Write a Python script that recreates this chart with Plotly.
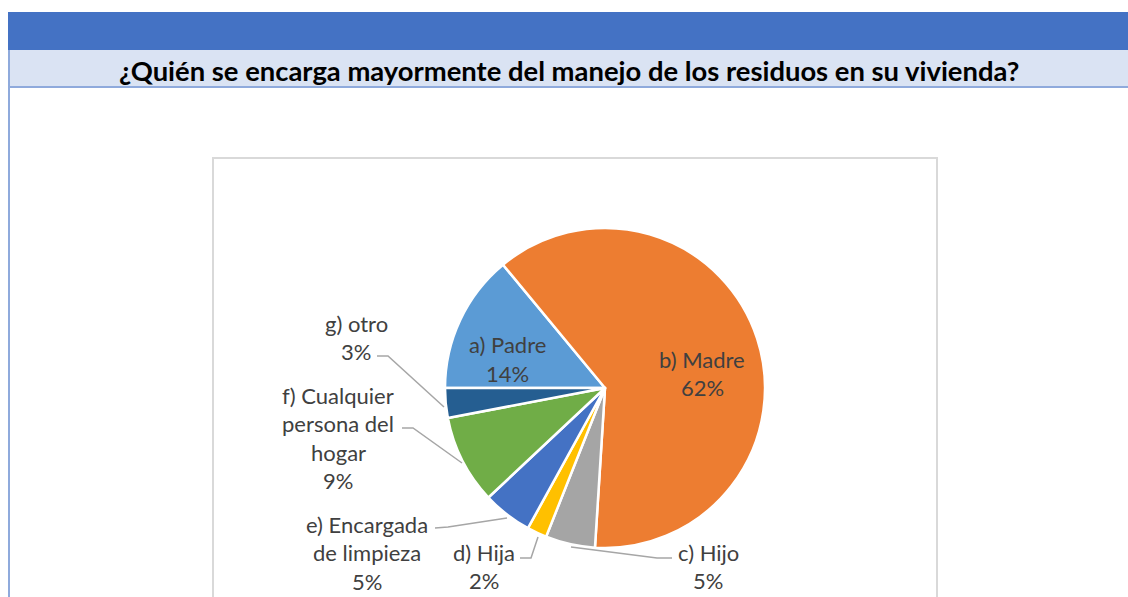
import plotly.graph_objects as go

W, H = 1128, 597

categories = ["a) Padre", "b) Madre", "c) Hijo", "d) Hija",
              "e) Encargada de limpieza", "f) Cualquier persona del hogar", "g) otro"]
values = [14, 62, 5, 2, 5, 9, 3]
colors = ["#5B9BD5", "#ED7D31", "#A5A5A5", "#FFC000", "#4472C4", "#70AD47", "#255E91"]
title_text = "¿Quién se encarga mayormente del manejo de los residuos en su vivienda?"

label_lines = {
    "a) Padre": ["a) Padre"],
    "b) Madre": ["b) Madre"],
    "c) Hijo": ["c) Hijo"],
    "d) Hija": ["d) Hija"],
    "e) Encargada de limpieza": ["e) Encargada", "de limpieza"],
    "f) Cualquier persona del hogar": ["f) Cualquier", "persona del", "hogar"],
    "g) otro": ["g) otro"],
}


def px(x):
    return x / W


def py(y):
    return 1 - y / H


cx, cy, R = 605, 388, 160

fig = go.Figure()
fig.add_trace(go.Pie(
    labels=categories, values=values, sort=False, direction="clockwise",
    rotation=270, textinfo="none", hoverinfo="label+percent",
    marker=dict(colors=colors, line=dict(color="white", width=2.5)),
    domain=dict(x=[px(cx - R), px(cx + R)], y=[py(cy + R), py(cy - R)]),
    showlegend=False,
))

total = sum(values)
pct = {c: f"{round(v / total * 100)}%" for c, v in zip(categories, values)}

LBL = dict(family="Lato, 'Liberation Sans', sans-serif", size=22, color="#404040")

label_pos = [
    ("a) Padre", 507, 345),
    ("b) Madre", 702, 359),
    ("g) otro", 356, 323),
    ("f) Cualquier persona del hogar", 338, 395),
    ("e) Encargada de limpieza", 367, 524),
    ("d) Hija", 484, 552),
    ("c) Hijo", 708, 552),
]
LH = 28.5
annotations = []
for cat, x, y in label_pos:
    lines = label_lines[cat] + [pct[cat]]
    for i, line in enumerate(lines):
        annotations.append(dict(
            x=px(x), y=py(y + i * LH), xref="paper", yref="paper",
            text=line, showarrow=False, xanchor="center", yanchor="middle",
            font=LBL))

annotations.append(dict(
    x=px(569), y=py(70), xref="paper", yref="paper", text="<b>" + title_text + "</b>",
    showarrow=False, xanchor="center", yanchor="middle",
    font=dict(family="Lato, 'Liberation Sans', sans-serif", size=27.4, color="#000000")))

shapes = [
    dict(type="rect", xref="paper", yref="paper", x0=px(8), x1=px(1135), y0=py(50), y1=py(12),
         fillcolor="#4472C4", line=dict(width=0), layer="below"),
    dict(type="rect", xref="paper", yref="paper", x0=px(8), x1=px(1135), y0=py(87), y1=py(50),
         fillcolor="#DAE3F3", line=dict(width=0), layer="below"),
    dict(type="line", xref="paper", yref="paper", x0=px(8), x1=px(1135), y0=py(87), y1=py(87),
         line=dict(color="#8FAADC", width=2)),
    dict(type="line", xref="paper", yref="paper", x0=px(9), x1=px(9), y0=py(50), y1=py(605),
         line=dict(color="#8FAADC", width=2)),
    dict(type="rect", xref="paper", yref="paper", x0=px(213), x1=px(937), y0=py(610), y1=py(158),
         fillcolor="rgba(0,0,0,0)", line=dict(color="#D9D9D9", width=2)),
]

leaders = [
    [(377, 356), (388, 356), (444, 407)],
    [(402, 428), (413, 428), (462, 463)],
    [(435, 528), (448, 527), (507, 518)],
    [(520, 558), (531, 558), (538, 537)],
    [(571, 547), (657, 558), (672, 558)],
]
for pts in leaders:
    path = "M " + " L ".join(f"{px(a)},{py(b)}" for a, b in pts)
    shapes.append(dict(type="path", xref="paper", yref="paper", path=path,
                       line=dict(color="#A6A6A6", width=1.5)))

fig.update_layout(
    width=W, height=H, margin=dict(l=0, r=0, t=0, b=0),
    paper_bgcolor="white", plot_bgcolor="white",
    annotations=annotations, shapes=shapes,
)

fig.write_html(
    "out.html",
    config={"displayModeBar": False},
    post_script="document.body.style.margin='0';document.body.style.overflow='hidden';",
)
